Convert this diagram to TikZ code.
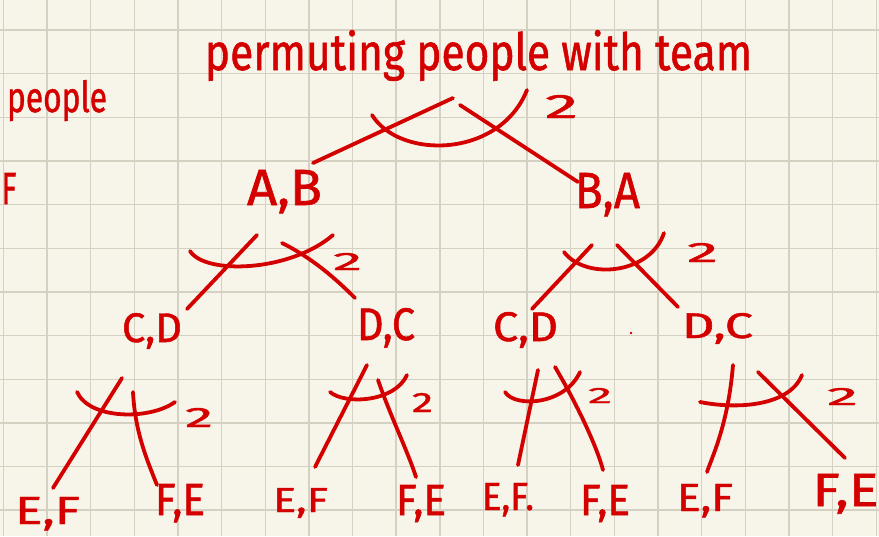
\documentclass[tikz,border=0pt]{standalone}
\usepackage{fontspec}
\setmainfont{Fira Sans}[FakeBold=1.2]
\usepackage{graphicx}
\definecolor{paper}{RGB}{247,245,233}
\definecolor{gridc}{RGB}{212,209,195}
\definecolor{ink}{RGB}{212,0,0}
\newcommand\hwbox[3]{\resizebox{#1pt}{#2pt}{#3}}
\begin{document}
\begin{tikzpicture}[x=1pt,y=-1pt,
  lab/.style={text=ink, inner sep=0pt, anchor=base},
  br/.style={draw=ink, line width=3.8pt, line cap=round, line join=round},
  arcm/.style={draw=ink, line width=3.8pt, line cap=round}]
\useasboundingbox (0,0) rectangle (879,536);
\fill[paper] (0,0) rectangle (879,536);
\foreach \i in {0,...,20} \draw[gridc, line width=1.4pt] ({3.4+43.64*\i},0) -- ({3.4+43.64*\i},536);
\foreach \j in {0,...,11} \draw[gridc, line width=1.4pt] (0,{30+43.65*\j}) -- (879,{30+43.65*\j});

% texts
\node[lab] (T) at (478.5,70) {\hwbox{547}{40}{permuting people with team}};
\node[lab] (P) at (57,112) {\hwbox{100}{32}{people}};
\node[lab] (F0) at (9,204) {\hwbox{15}{31}{F}};
\node[lab] (AB) at (284.5,205) {\hwbox{75}{35}{A,B}};
\node[lab] (BA) at (607.5,208) {\hwbox{65}{35}{B,A}};
\node[lab] (CD1) at (152,342) {\hwbox{60}{29}{C,D}};
\node[lab] (DC1) at (386,340) {\hwbox{58}{32}{D,C}};
\node[lab] (CD2) at (525.5,341) {\hwbox{65}{29}{C,D}};
\node[lab] (DC2) at (717.5,338) {\hwbox{71}{25}{D,C}};
\node[lab] (EF1) at (47.5,524) {\hwbox{65}{27}{E,F}};
\node[lab] (FE1) at (180,515) {\hwbox{50}{31}{F,E}};
\node[lab] (EF2) at (300.5,512) {\hwbox{55}{24}{E,F}};
\node[lab] (FE2) at (421,515) {\hwbox{50}{30}{F,E}};
\node[lab] (EF3) at (508,510) {\hwbox{52}{27}{E,F.}};
\node[lab] (FE3) at (605,515) {\hwbox{50}{30}{F,E}};
\node[lab] (EF4) at (705,511) {\hwbox{56}{27}{E,F}};
\node[lab] (FE4) at (845.5,506) {\hwbox{66}{32}{F,E}};
% twos
\node[lab] (n0) at (561.5,118) {\hwbox{33}{23}{2}};
\node[lab] (n1) at (347.5,270) {\hwbox{29}{17}{2}};
\node[lab] (n2) at (702.5,262) {\hwbox{31}{19}{2}};
\node[lab] (n3) at (199,427) {\hwbox{28}{19}{2}};
\node[lab] (n4) at (422.5,412) {\hwbox{21}{19}{2}};
\node[lab] (n5) at (600,403) {\hwbox{24}{15}{2}};
\node[lab] (n6) at (842.5,405) {\hwbox{31}{17}{2}};

% branches
\draw[br] ([shift={(-25.5,28)}]T.base) -- ([shift={(28.5,-42)}]AB.base);
\draw[br] ([shift={(-18.5,35)}]T.base) -- ([shift={(-29.5,-26)}]BA.base);
\draw[br] ([shift={(-27.5,30)}]AB.base) -- ([shift={(35,-33)}]CD1.base);
\draw[br] ([shift={(-2.5,38)}]AB.base) .. controls +(30,15) and +(-20,-20) .. ([shift={(-31,-42)}]DC1.base);
\draw[br] ([shift={(-15.5,37)}]BA.base) -- ([shift={(6.5,-32)}]CD2.base);
\draw[br] ([shift={(9.5,37)}]BA.base) -- ([shift={(-39.5,-31)}]DC2.base);
\draw[br] ([shift={(-30,36)}]CD1.base) -- ([shift={(5.5,-36)}]EF1.base);
\draw[br] ([shift={(-19,50)}]CD1.base) .. controls +(2,40) and +(-10,-25) .. ([shift={(-23,-30)}]FE1.base);
\draw[br] ([shift={(-19,25)}]DC1.base) -- ([shift={(14.5,-45)}]EF2.base);
\draw[br] ([shift={(-8,40)}]DC1.base) .. controls +(12,35) and +(-8,-25) .. ([shift={(-5,-38)}]FE2.base);
\draw[br] ([shift={(12.5,29)}]CD2.base) -- ([shift={(10,-45)}]EF3.base);
\draw[br] ([shift={(29.5,26)}]CD2.base) .. controls +(15,25) and +(-8,-30) .. ([shift={(-2,-45)}]FE3.base);
\draw[br] ([shift={(15.5,27)}]DC2.base) .. controls +(-5,60) and +(5,-15) .. ([shift={(2,-39)}]EF4.base);
\draw[br] ([shift={(40.5,34)}]DC2.base) -- ([shift={(-0.5,-48)}]FE4.base);

% crossing arcs
\draw[arcm] (372,115) .. controls (400,160) and (500,158) .. (527,90);
\draw[arcm] (190,251) .. controls (205,275) and (290,272) .. (333,235);
\draw[arcm] (564,252) .. controls (585,280) and (650,275) .. (664,233);
\draw[arcm] (77,392) .. controls (90,420) and (150,420) .. (175,402);
\draw[arcm] (330,392) .. controls (345,405) and (395,402) .. (407,375);
\draw[arcm] (505,392) .. controls (515,408) and (565,405) .. (580,372);
\draw[arcm] (700,402) .. controls (740,410) and (790,405) .. (802,375);
% stray dot
\fill[ink] (631,333) circle (1.3);
\end{tikzpicture}
\end{document}
